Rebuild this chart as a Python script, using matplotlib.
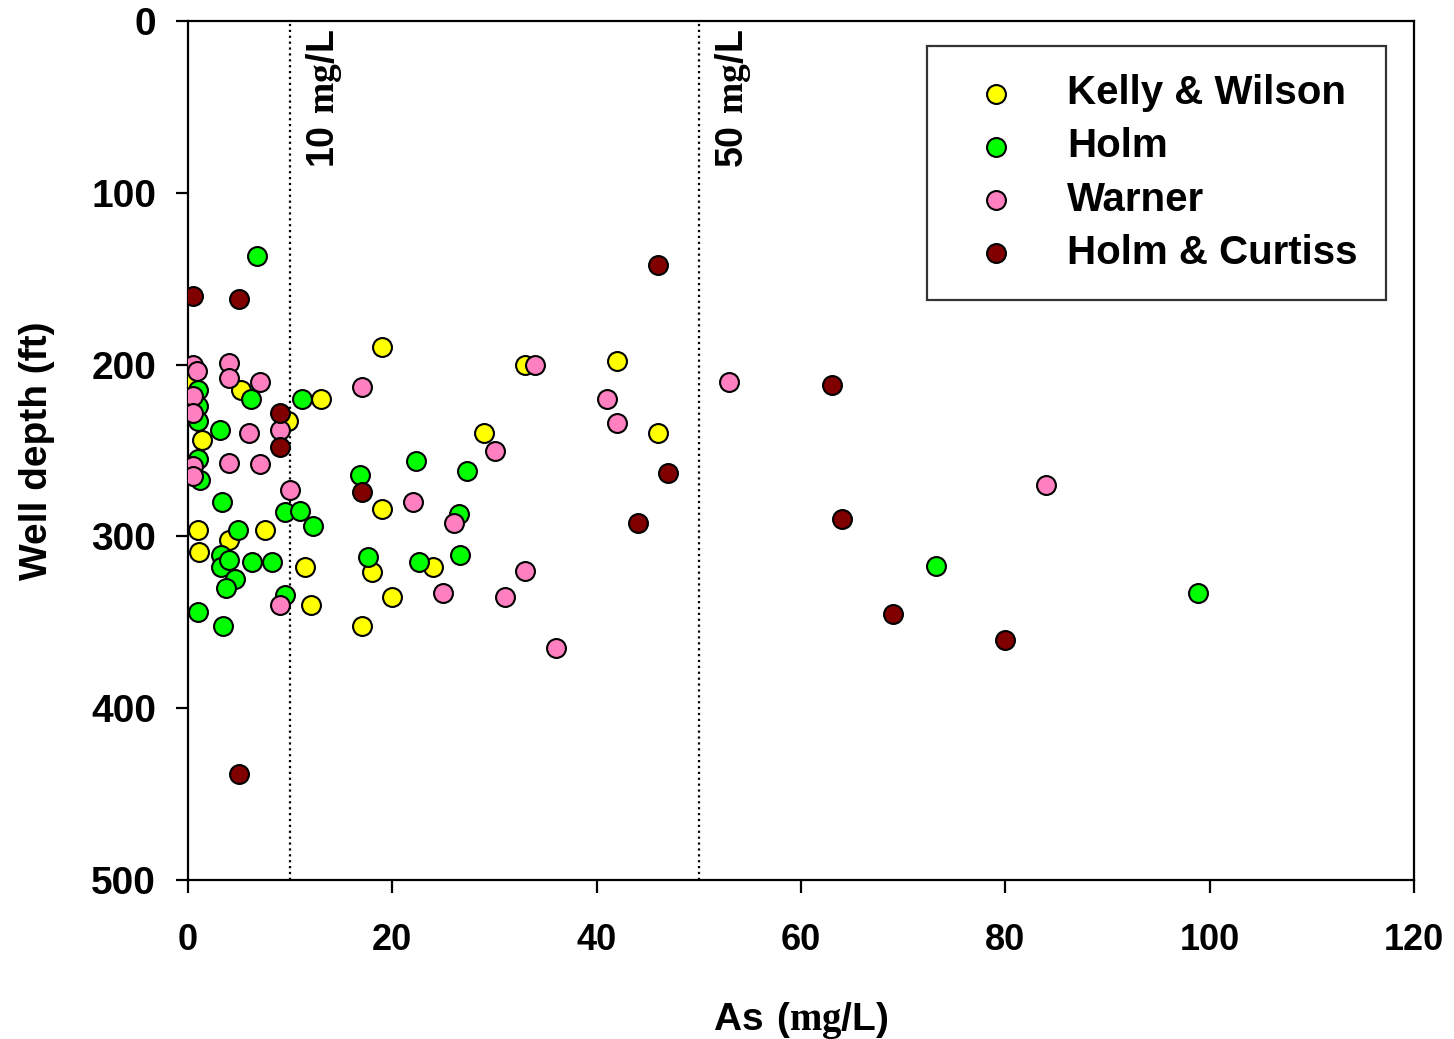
import matplotlib
matplotlib.use("Agg")
import matplotlib.pyplot as plt

plt.rcParams['font.family'] = ['Liberation Sans', 'DejaVu Sans']
plt.rcParams['font.weight'] = 'bold'
plt.rcParams['mathtext.fontset'] = 'custom'
plt.rcParams['mathtext.rm'] = 'Liberation Serif:bold'
plt.rcParams['mathtext.sf'] = 'Liberation Sans:bold'

# As (mg/L) vs well depth (ft)
kelly_as = [0.2, 5.2, 9.8, 13.0, 1.4, 19.0, 33.0, 29.0, 42.0, 46.0, 19.0,
            1.0, 7.5, 4.0, 1.1, 11.5, 18.0, 24.0, 20.0, 12.0, 17.0]
kelly_depth = [210, 215, 233, 220, 244, 190, 200, 240, 198, 240, 284,
               296, 296, 302, 309, 318, 321, 318, 335, 340, 352]

holm_as = [6.8, 1.0, 1.0, 1.0, 6.2, 11.2, 3.1, 1.0, 1.2, 3.3, 9.5, 11.0,
           12.2, 4.9, 3.2, 3.2, 4.0, 6.3, 8.2, 4.6, 3.7, 9.5, 1.0, 3.4,
           16.8, 22.3, 27.3, 26.5, 17.6, 22.6, 26.6, 73.2, 98.9]
holm_depth = [137, 215, 224, 233, 220, 220, 238, 255, 267, 280, 286, 285,
              294, 296, 311, 318, 314, 315, 315, 325, 330, 334, 344, 352,
              264, 256, 262, 287, 312, 315, 311, 317, 333]

warner_as = [0.5, 0.9, 0.5, 0.5, 4.0, 4.0, 7.0, 9.0, 6.0, 0.5, 4.0, 7.0,
             0.5, 10.0, 17.0, 34.0, 41.0, 42.0, 30.0, 22.0, 26.0, 33.0,
             25.0, 31.0, 9.0, 36.0, 53.0, 84.0]
warner_depth = [200, 204, 218, 228, 199, 208, 210, 238, 240, 259, 257, 258,
                265, 273, 213, 200, 220, 234, 250, 280, 292, 320,
                333, 335, 340, 365, 210, 270]

curtiss_as = [0.5, 5.0, 9.0, 9.0, 17.0, 46.0, 47.0, 44.0, 63.0, 64.0,
              69.0, 80.0, 5.0]
curtiss_depth = [160, 162, 228, 248, 274, 142, 263, 292, 212, 290,
                 345, 360, 438]

limits = [10, 50]
limit_labels = ['$\\mathsf{10\\ }\\mathrm{mg}\\mathsf{/L}$',
                '$\\mathsf{50\\ }\\mathrm{mg}\\mathsf{/L}$']

fig = plt.figure(figsize=(14.54, 10.39), dpi=100)
ax = fig.add_axes([0.1293, 0.153, 0.8432, 0.8268])

ms = 185
lw = 1.5
ax.scatter(kelly_as, kelly_depth, s=ms, c='#FFFF00', edgecolors='black', linewidths=lw, label='Kelly & Wilson', zorder=3)
ax.scatter(holm_as, holm_depth, s=ms, c='#00FF00', edgecolors='black', linewidths=lw, label='Holm', zorder=3)
ax.scatter(warner_as, warner_depth, s=ms, c='#FF80C0', edgecolors='black', linewidths=lw, label='Warner', zorder=3)
ax.scatter(curtiss_as, curtiss_depth, s=ms, c='#800000', edgecolors='black', linewidths=lw, label='Holm & Curtiss', zorder=3)

for xv, lab in zip(limits, limit_labels):
    ax.axvline(xv, color='black', linestyle=':', linewidth=1.6, zorder=2)
    ax.text(xv + 1.4, 5, lab, rotation=90, ha='left', va='top', fontsize=27)

ax.set_xlim(0, 120)
ax.set_ylim(500, 0)
ax.set_xticks([0, 20, 40, 60, 80, 100, 120])
ax.set_yticks([0, 100, 200, 300, 400, 500])

for s in ax.spines.values():
    s.set_linewidth(1.6)
ax.tick_params(direction='out', length=9, width=1.6)
ax.tick_params(axis='x', labelsize=26, pad=22)
ax.tick_params(axis='y', labelsize=28, pad=14)

ax.set_xlabel('$\\mathsf{As\\ (}\\mathrm{mg}\\mathsf{/L)}$', fontsize=28, labelpad=30)
ax.set_ylabel('Well depth (ft)', fontsize=28, fontweight='bold', labelpad=26)

leg = ax.legend(loc='upper left', bbox_to_anchor=(0.603, 0.971), borderaxespad=0,
                fontsize=29, frameon=True, fancybox=False, borderpad=0.7,
                handlelength=2.0, handletextpad=0.77, labelspacing=0.38,
                markerscale=1.0)
leg.get_frame().set_edgecolor('black')
leg.get_frame().set_linewidth(1.6)

fig.savefig('out.png', dpi=100)
